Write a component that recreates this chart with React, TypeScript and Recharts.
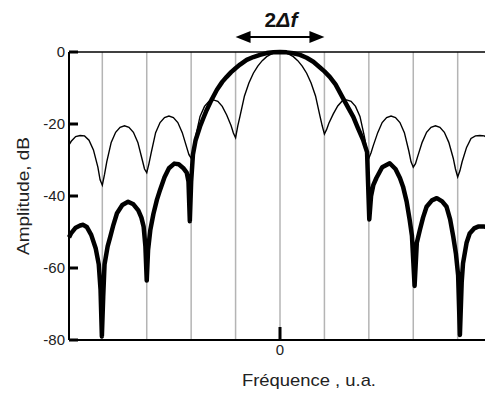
import { LineChart, Line, XAxis, YAxis, CartesianGrid, ReferenceLine } from "recharts";

// rectangular window spectrum (thin line)
const thinFreq = [
  -4.75, -4.7, -4.6, -4.5, -4.4, -4.3, -4.2, -4.1, -4.05, -4.0, -3.95, -3.9, -3.8, -3.7, -3.6, -3.5, -3.4, -3.3,
  -3.2, -3.1, -3.05, -3.0, -2.95, -2.9, -2.8, -2.7, -2.6, -2.5, -2.4, -2.3, -2.2, -2.1, -2.05, -2.0, -1.95, -1.9,
  -1.8, -1.7, -1.6, -1.5, -1.4, -1.3, -1.2, -1.1, -1.05, -1.0, -0.95, -0.9, -0.8, -0.7, -0.6, -0.5, -0.4, -0.3,
  -0.2, -0.1, 0, 0.1, 0.2, 0.3, 0.4, 0.5, 0.6, 0.7, 0.8, 0.9, 0.95, 1.0, 1.05, 1.1, 1.2, 1.3, 1.4, 1.5, 1.6, 1.7,
  1.8, 1.9, 1.95, 2.0, 2.05, 2.1, 2.2, 2.3, 2.4, 2.5, 2.6, 2.7, 2.8, 2.9, 2.95, 3.0, 3.05, 3.1, 3.2, 3.3, 3.4,
  3.5, 3.6, 3.7, 3.8, 3.9, 3.95, 4.0, 4.05, 4.1, 4.2, 4.3, 4.4, 4.5, 4.6, 4.7, 4.75,
];
const thinDb = [
  -25.8, -24.8, -23.5, -23.2, -23.3, -24.5, -27.2, -32, -35.5, -37, -34, -30.5, -25.1, -22.3, -20.9, -20.5, -20.9, -22.3,
  -25.1, -30, -32.5, -33.5, -31, -28, -22.4, -19.6, -18.2, -17.8, -18.2, -19.6, -22.4, -26.5, -28.5, -29.5, -27, -23.5,
  -17.9, -15.1, -13.7, -13.3, -13.7, -15.1, -17.5, -20.5, -22.5, -23.8, -20.5, -17.8, -12.2, -8.6, -5.9, -3.9, -2.4, -1.3,
  -0.6, -0.15, 0, -0.15, -0.6, -1.3, -2.4, -3.9, -5.9, -8.6, -12.2, -17.8, -20.5, -22.8, -21.5, -19.8, -17.2, -15, -13.6, -13.3, -13.7, -15.1,
  -17.9, -23.5, -27, -29.5, -28, -26, -22.4, -19.6, -18.2, -17.8, -18.2, -19.6, -22.4, -27.5, -30.5, -32, -31, -29, -25.1, -22.3, -20.9,
  -20.5, -20.9, -22.3, -25.1, -29.5, -32.5, -34.7, -33, -30.5, -26.5, -24, -23.3, -23.2, -23.3, -24.2, -25,
];

// Hann-like window spectrum (thick line)
const thickFreq = [
  -4.75, -4.7, -4.6, -4.5, -4.43, -4.35, -4.25, -4.15, -4.08, -4.04, -4.01, -3.98, -3.95, -3.88, -3.82, -3.75, -3.67,
  -3.55, -3.42, -3.3, -3.19, -3.12, -3.07, -3.03, -3.0, -2.97, -2.92, -2.85, -2.77, -2.7, -2.6, -2.5, -2.38, -2.28,
  -2.18, -2.1, -2.06, -2.03, -2.0, -1.96, -1.9, -1.8, -1.72, -1.65, -1.55, -1.42, -1.3, -1.2, -1.1, -1.0, -0.9,
  -0.75, -0.6, -0.45, -0.3, -0.15, 0, 0.15, 0.3, 0.45, 0.6, 0.75, 0.9, 1.0, 1.12, 1.25, 1.42, 1.55, 1.65, 1.75,
  1.87, 1.96, 2.01, 2.05, 2.1, 2.17, 2.3, 2.47, 2.6, 2.7, 2.77, 2.85, 2.92, 2.97, 3.03, 3.08, 3.15, 3.22, 3.3,
  3.42, 3.53, 3.65, 3.75, 3.83, 3.9, 3.96, 4.01, 4.05, 4.09, 4.12, 4.2, 4.27, 4.37, 4.46, 4.6, 4.75,
];
const thickDb = [
  -51.5, -50.3, -48.8, -48.2, -48, -48.6, -50.8, -54.5, -59, -66, -79, -68, -59, -54, -51.3, -48, -44.8,
  -42.5, -41.6, -42.3, -44, -46, -48.5, -54, -63.5, -55, -49.5, -45, -41, -38.3, -34.8, -32.3, -31, -31.2,
  -32.2, -33.5, -36, -47, -36, -28.5, -24.5, -20.7, -18.2, -16.1, -13.5, -10.5, -8.3, -6.9, -5.6, -4.5, -3.5,
  -2.2, -1.4, -0.8, -0.3, -0.1, 0, -0.1, -0.35, -0.8, -1.6, -2.7, -4.3, -5.4, -6.9, -9, -12.9, -15.8, -18, -21,
  -24.4, -27.8, -46.5, -40, -37, -35, -32, -30.9, -32.5, -35, -37.4, -41.5, -46.7, -51, -65, -53, -49.4, -46, -43,
  -41.2, -40.6, -41.5, -43, -46.5, -51.3, -56, -62, -78.6, -64, -58.7, -53, -50.4, -49, -48.5, -48.5, -49,
];

const freqTicks = [-4, -3, -2, -1, 0, 1, 2, 3, 4];
const dbTicks = [-80, -60, -40, -20, 0];
const spanFreq = [-1, 1]; // 2Δf
const spanLevel = 4.2;

const thinData = thinFreq.map((f, i) => ({ f, db: thinDb[i] }));
const thickData = thickFreq.map((f, i) => ({ f, db: thickDb[i] }));

const font = "'Liberation Sans', Arial, sans-serif";

const FreqTick = ({ x, y, payload }: any) => {
  if (payload.value !== 0) return <g />;
  return (
    <g>
      <rect x={x - 1.5} y={y - 13} width={3} height={13} fill="#000" />
      <text x={x} y={y + 15} textAnchor="middle" fontSize={15} fontFamily={font} fill="#222">
        0
      </text>
    </g>
  );
};

const DbTick = ({ x, y, payload }: any) => (
  <g>
    <rect x={x} y={y - 1.5} width={9} height={3} fill="#000" />
    <text x={x - 4} y={y + 5} textAnchor="end" fontSize={15} fontFamily={font} fill="#222">
      {payload.value}
    </text>
  </g>
);

const SpanArrow = ({ x1, y1, x2 }: any) => {
  const cx = (x1 + x2) / 2;
  return (
    <g>
      <line x1={x1 + 10} y1={y1} x2={x2 - 10} y2={y1} stroke="#000" strokeWidth={2} />
      <polygon points={`${x1},${y1} ${x1 + 15},${y1 - 6} ${x1 + 15},${y1 + 6}`} fill="#000" />
      <polygon points={`${x2},${y1} ${x2 - 15},${y1 - 6} ${x2 - 15},${y1 + 6}`} fill="#000" />
      <text x={cx + 1} y={y1 - 10} textAnchor="middle" fontSize={21} fontWeight="bold" fontFamily={font} fill="#111">
        2<tspan fontStyle="italic">Δf</tspan>
      </text>
    </g>
  );
};

export default function App() {
  return (
    <div style={{ position: "absolute", left: 0, top: 0, width: 485, height: 394, overflow: "hidden", background: "#fff" }}>
      <LineChart width={495} height={394} margin={{ top: 52, right: 4, bottom: 24, left: 0 }}>
        <CartesianGrid horizontal={false} stroke="#b4b4b4" strokeWidth={1.5} />
        <XAxis
          dataKey="f"
          type="number"
          domain={[-4.75, 4.75]}
          ticks={freqTicks}
          height={30}
          tickSize={0}
          tickMargin={0}
          tickLine={false}
          tick={<FreqTick />}
          axisLine={{ stroke: "#000", strokeWidth: 2 }}
          allowDuplicatedCategory={false}
          label={{
            content: ({ viewBox }: any) => (
              <text
                x={viewBox.x + viewBox.width / 2 + 29}
                y={viewBox.y + 46}
                textAnchor="middle"
                fontSize={17}
                fontFamily={font}
                fill="#222"
                textLength={134}
                lengthAdjust="spacingAndGlyphs"
              >
                Fréquence , u.a.
              </text>
            ),
          }}
        />
        <YAxis
          type="number"
          domain={[-80, 0]}
          ticks={dbTicks}
          width={69}
          tickSize={0}
          tickMargin={0}
          tickLine={false}
          tick={<DbTick />}
          axisLine={{ stroke: "#000", strokeWidth: 2 }}
          label={{
            content: ({ viewBox }: any) => (
              <text
                x={23}
                y={viewBox.y + viewBox.height / 2}
                transform={`rotate(-90 23 ${viewBox.y + viewBox.height / 2})`}
                textAnchor="middle"
                dominantBaseline="central"
                fontSize={16}
                fontFamily={font}
                fill="#222"
                textLength={118}
                lengthAdjust="spacingAndGlyphs"
              >
                Amplitude, dB
              </text>
            ),
          }}
        />
        <ReferenceLine y={0} stroke="#000" strokeWidth={1.5} />
        <ReferenceLine
          segment={[
            { x: spanFreq[0], y: spanLevel },
            { x: spanFreq[1], y: spanLevel },
          ]}
          ifOverflow="visible"
          shape={<SpanArrow />}
        />
        <Line
          data={thinData}
          dataKey="db"
          type="linear"
          stroke="#000"
          strokeWidth={1.4}
          dot={false}
          isAnimationActive={false}
        />
        <Line
          data={thickData}
          dataKey="db"
          type="linear"
          stroke="#000"
          strokeWidth={4.5}
          strokeLinejoin="round"
          dot={false}
          isAnimationActive={false}
        />
      </LineChart>
    </div>
  );
}
